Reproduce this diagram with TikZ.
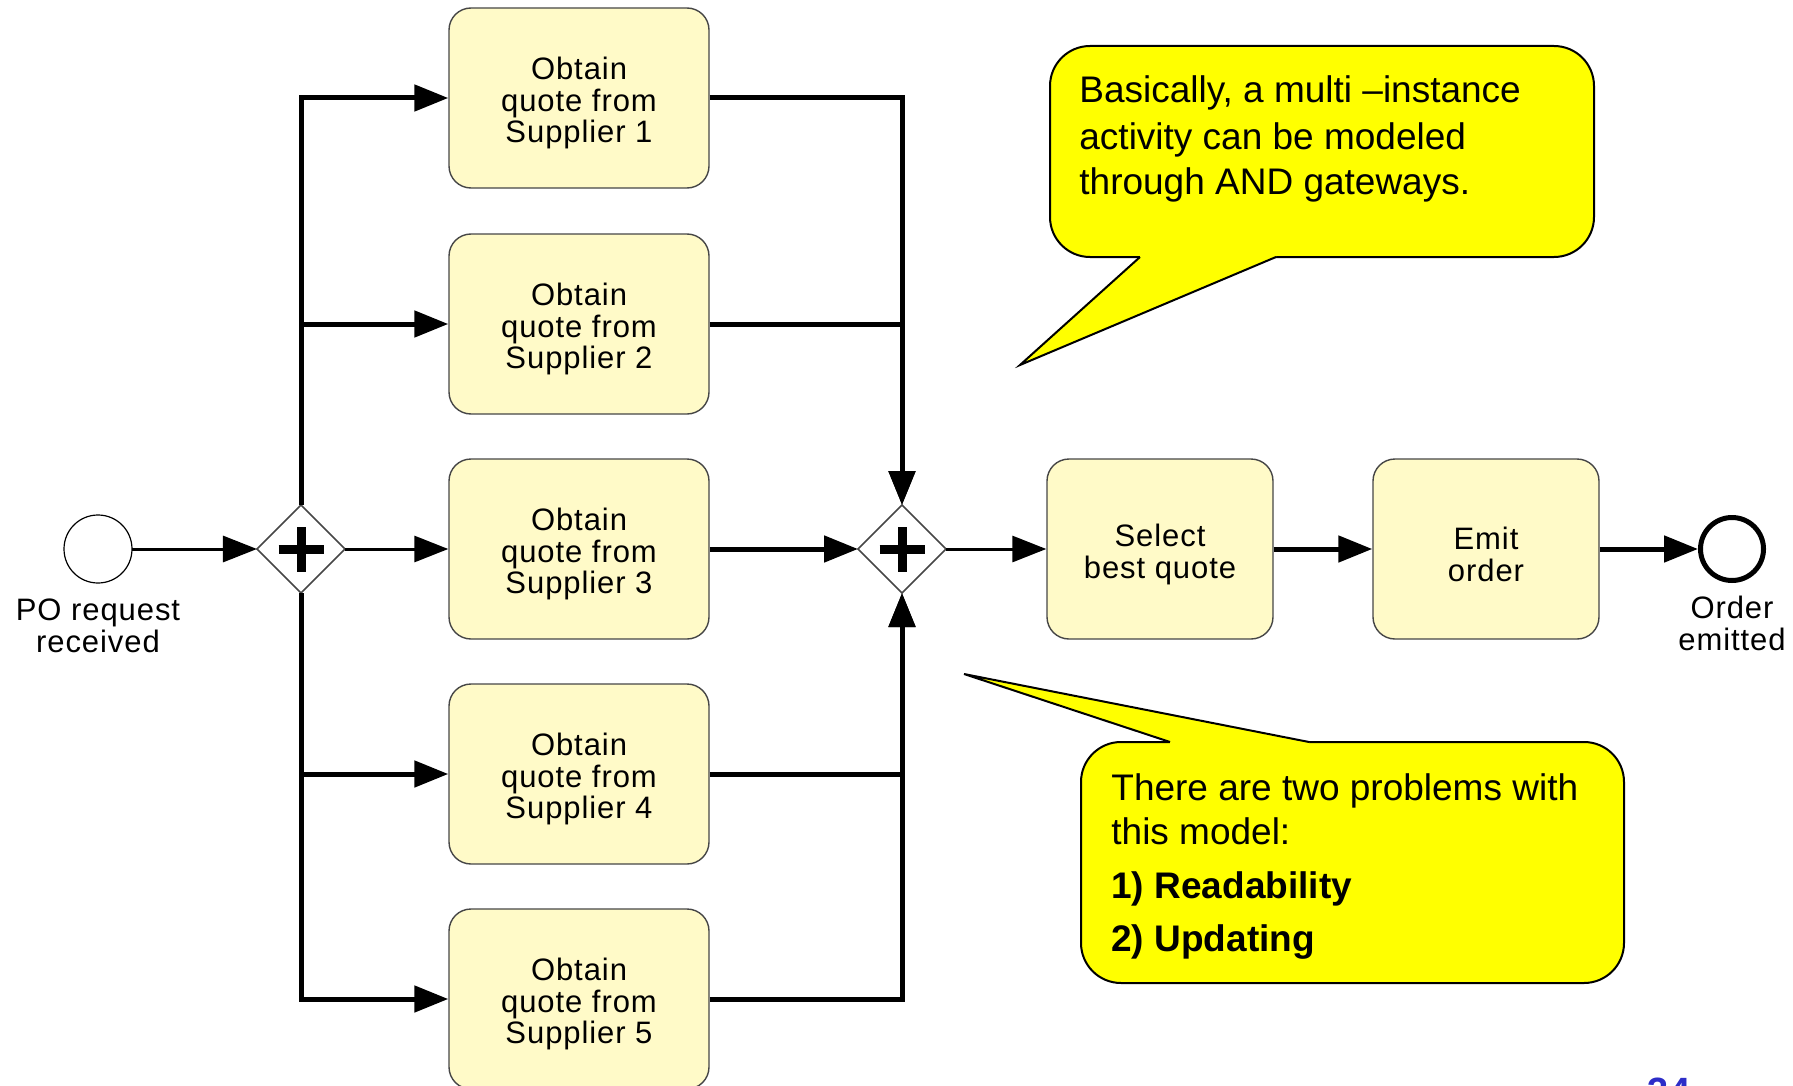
\documentclass[tikz,border=0pt]{standalone}
\usepackage{fontspec}
\setmainfont{Liberation Sans}
\newfontfamily\bpmnfont[LetterSpace=3]{Liberation Sans}
\usetikzlibrary{shapes.geometric,arrows.meta}
\definecolor{taskfill}{RGB}{255,250,200}
\definecolor{taskline}{RGB}{70,70,70}
\definecolor{callyellow}{RGB}{255,255,0}
\definecolor{pagenum}{RGB}{45,45,200}
\newcommand\tskstrut{\rule{0pt}{16.5pt}}
\begin{document}
\begin{tikzpicture}[x=0.5pt,y=-0.5pt,
  task/.style={draw=taskline, fill=taskfill, line width=0.7pt, rounded corners=11pt,
    minimum width=130pt, minimum height=90pt, align=center, inner sep=0pt,
    font=\bpmnfont\fontsize{15.5}{15.75}\selectfont},
  smalltask/.style={task, minimum width=113pt},
  gateway/.style={diamond, draw=taskline, fill=white, line width=0.8pt,
    minimum width=44pt, minimum height=44pt, inner sep=0pt, outer sep=0pt},
  plusbar/.style={line width=4.5pt},
  startev/.style={circle, draw=black, fill=white, line width=0.6pt, minimum size=34pt, inner sep=0pt, outer sep=0pt},
  endev/.style={circle, draw=black, fill=white, line width=2.5pt, minimum size=31.5pt, inner sep=0pt, outer sep=1.25pt},
  evlabel/.style={align=center, inner sep=0pt, font=\bpmnfont\fontsize{15.5}{16}\selectfont},
  tip/.style={-{Triangle[length=17pt,width=13pt]}},
  flow/.style={tip, line width=2.5pt},
  thinflow/.style={tip, line width=1.5pt},
  callout/.style={fill=callyellow, draw=black, line width=1pt, rounded corners=20pt},
  calltext/.style={anchor=base west, inner sep=0pt, font=\fontsize{18.5}{22.5}\selectfont},
]
\useasboundingbox (0,0) rectangle (1793,1086);
\clip (0,0) rectangle (1793,1086);

% events
\node[startev] (s) at (98,549) {};
\node[evlabel] (slbl) at (98,625.5) {PO request\\received};
\node[endev] (e) at (1732,549) {};
\node[evlabel] (elbl) at (1732,623.5) {Order\\emitted};

% gateways
\node[gateway] (g1) at (301,549) {};
\node[gateway] (g2) at (902,549) {};

% tasks
\node[task] (t1) at (579,98) {\tskstrut Obtain\\quote from\\Supplier 1};
\node[task] (t2) at (579,324) {\tskstrut Obtain\\quote from\\Supplier 2};
\node[task] (t3) at (579,549) {\tskstrut Obtain\\quote from\\Supplier 3};
\node[task] (t4) at (579,774) {\tskstrut Obtain\\quote from\\Supplier 4};
\node[task] (t5) at (579,999) {\tskstrut Obtain\\quote from\\Supplier 5};
\node[smalltask] (sel) at (1160,549) {\tskstrut Select\\best quote};
\node[smalltask] (emit) at (1486,549) {\tskstrut Emit\\order};

% flows
\draw[thinflow] (s) -- (g1);
\draw[flow] (g1.north) |- (t1.west);
\draw[flow] (g1.north) |- (t2.west);
\draw[thinflow] (g1.east) -- (t3.west);
\draw[flow] (g1.south) |- (t4.west);
\draw[flow] (g1.south) |- (t5.west);
\draw[flow] (t1.east) -| (g2.north);
\draw[flow] (t2.east) -| (g2.north);
\draw[flow] (t3.east) -- (g2.west);
\draw[flow] (t4.east) -| (g2.south);
\draw[flow] (t5.east) -| (g2.south);
\draw[thinflow] (g2.east) -- (sel.west);
\draw[flow] (sel.east) -- (emit.west);
\draw[flow] (emit.east) -- (e.west);

% plus signs
\foreach \g in {g1,g2}{
  \draw[plusbar] ([xshift=-11.25pt]\g.center) -- ([xshift=11.25pt]\g.center);
  \draw[plusbar] ([yshift=-11.25pt]\g.center) -- ([yshift=11.25pt]\g.center);
}

% callout 1
\filldraw[callout] (1050,46) rectangle (1594,257);
\fill[callyellow] (1140,257) -- (1020,365) -- (1276,257) -- (1276,252) -- (1140,252) -- cycle;
\draw[line width=1pt] (1140,257) -- (1020,365) -- (1276,257);
\node[calltext] (c1a) at (1079,103) {Basically, a multi –instance};
\node[calltext] (c1b) at (1079,149) {activity can be modeled};
\node[calltext] (c1c) at (1079,194) {through AND gateways.};

% callout 2
\filldraw[callout] (1081,742) rectangle (1624,983);
\fill[callyellow] (1170,742) -- (964,674) -- (1309,742) -- (1309,747) -- (1170,747) -- cycle;
\draw[line width=1pt] (1170,742) -- (964,674) -- (1309,742);
\node[calltext] (c2a) at (1111,800) {There are two problems with};
\node[calltext] (c2b) at (1111,844) {this model:};
\node[calltext, font=\bfseries\fontsize{18.5}{22.5}\selectfont] (c2c) at (1111,898) {1) Readability};
\node[calltext, font=\bfseries\fontsize{18.5}{22.5}\selectfont] (c2d) at (1111,951) {2) Updating};

% page number (cut by page edge)
\node[anchor=base, inner sep=0pt, text=pagenum, font=\bfseries\fontsize{19}{19}\selectfont] (pn) at (1669,1104) {34};
\end{tikzpicture}
\end{document}
